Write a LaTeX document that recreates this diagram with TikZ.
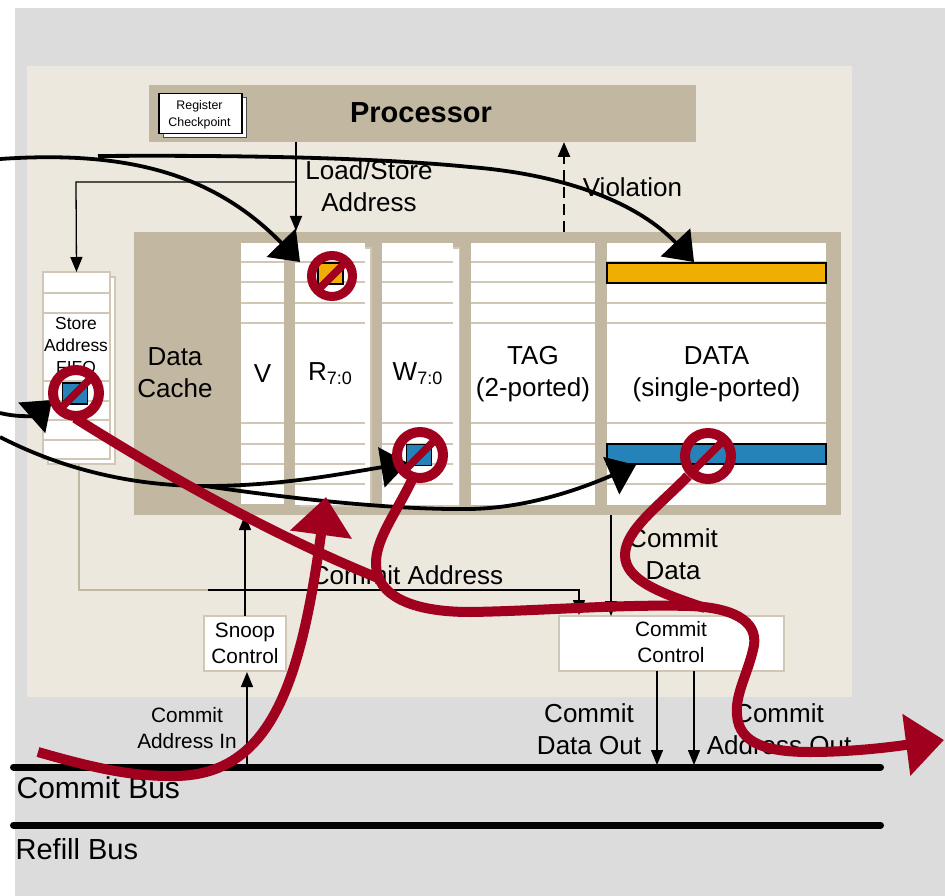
\documentclass[tikz,border=0pt]{standalone}
\usepackage{fontspec}
\setmainfont{Liberation Sans}
\usepackage{color}
\usetikzlibrary{arrows.meta, positioning, calc}

\definecolor{wallgray}{HTML}{DCDCDC}
\definecolor{chipbeige}{HTML}{ECE8DD}
\definecolor{cachetan}{HTML}{C2B7A1}
\definecolor{rowtan}{HTML}{D0C7B6}
\definecolor{stopred}{HTML}{A0001E}
\definecolor{linegold}{HTML}{F0AE00}
\definecolor{lineblue}{HTML}{2683B9}

\newcommand{\bitrange}{{\fontsize{18}{18}\selectfont\raisebox{-4pt}{7:0}}}

\begin{document}
\begin{tikzpicture}[x=1pt,y=-1pt,->,>={Triangle[length=15pt,width=12pt]},line width=1.3pt,
            block/.style={draw=none,inner sep=0pt,outer sep=0pt,align=center},
            column/.style={block,fill=white,font=\fontsize{26}{32}\selectfont},
            shadowbox/.style={block,fill=white,draw=rowtan,line width=1.2pt},
            label/.style={inner sep=0pt,align=center,font=\fontsize{26}{32}\selectfont},
            smalllabel/.style={inner sep=0pt,align=center,font=\fontsize{20.8}{26.5}\selectfont},
            ctrl/.style={block,fill=white,draw=rowtan,line width=1.2pt,font=\fontsize{20.8}{26.5}\selectfont},
            bus/.style={-,line width=7pt,line cap=round},
            blackarc/.style={line width=3.8pt,-{Triangle[length=27pt,width=40pt]}},
            blackrun/.style={line width=3.8pt,-},
            redarc/.style={draw=stopred,line width=10pt,-{Triangle[length=38pt,width=60pt,fill=stopred]}},
            redrun/.style={draw=stopred,line width=10pt,-},
            linebar/.style={block,draw=black,line width=2pt,minimum width=219pt,minimum height=20pt},
            lineword/.style={block,draw=black,line width=1.6pt,minimum width=25pt,minimum height=21pt},
            noentry/.style={circle,draw=stopred,line width=9pt,inner sep=0pt,outer sep=0pt,fill=none}]
    \useasboundingbox (0,0) rectangle (945,896);

    % background
    \node [block,fill=wallgray,minimum width=930pt,minimum height=888pt] at (480,452) (wall) {};
    \node [block,fill=chipbeige,minimum width=825pt,minimum height=631pt] at (439.5,381.5) (chip) {};

    % processor
    \node [block,fill=cachetan,minimum width=547pt,minimum height=57pt] at (422.5,113.5) (processor) {};
    \node [font=\fontsize{29}{32}\selectfont\bfseries,inner sep=0pt] at (421,113) (proctext) {Processor};
    \node [block,fill=white,draw=black!70,minimum width=83pt,minimum height=40pt] at (205,117.5) (regshadow) {};
    \node [block,fill=white,draw=black,minimum width=83pt,minimum height=40pt] at (200.5,113.5) (regcheck) {};
    \node [inner sep=0pt,align=center,font=\fontsize{12.4}{17}\selectfont] at (199.5,114.5) (regtext) {Register\\Checkpoint};

    % data cache
    \node [block,fill=cachetan,minimum width=707pt,minimum height=283pt] at (487.5,373.5) (cache) {};
    \node [label] at (175,373) (cachetext) {Data\\Cache};

    \node [shadowbox,minimum width=70pt,minimum height=258pt] at (336,377) (rshadow) {};
    \node [shadowbox,minimum width=71pt,minimum height=258pt] at (424,377) (wshadow) {};
    \node [column,minimum width=43pt,minimum height=261pt] at (262.5,373.5) (vcol) {V};
    \node [column,minimum width=70pt,minimum height=261pt] at (330,374) (rcol) {R\bitrange};
    \node [column,minimum width=71pt,minimum height=261pt] at (417.5,374) (wcol) {W\bitrange};
    \node [column,minimum width=124pt,minimum height=261pt] at (533,374) (tagcol) {TAG\\(2-ported)};
    \node [column,minimum width=219pt,minimum height=261pt] at (716.5,374) (datacol) {DATA\\(single-ported)};
    \foreach \col in {vcol,rcol,wcol,tagcol,datacol}
        \foreach \y in {262,282,303,323,423,444,464,484}
            \draw [-,rowtan,line width=1.2pt] (\col.west |- 0,\y) -- (\col.east |- 0,\y);

    \node [linebar,fill=linegold] at (716.5,272.5) (goldbar) {};
    \node [linebar,fill=lineblue] at (716.5,454) (bluebar) {};
    \node [lineword,fill=linegold] at (330.5,273.5) (goldword) {};
    \node [lineword,fill=lineblue] at (419,455) (blueword) {};

    % store address fifo
    \node [shadowbox,minimum width=67pt,minimum height=187pt] at (81.5,370.5) (fifoshadow) {};
    \node [shadowbox,minimum width=67pt,minimum height=187pt] at (76.5,365.5) (fifo) {};
    \foreach \y in {293,313,381,401,420,440}
        \draw [-,rowtan,line width=1.2pt] (fifo.west |- 0,\y) -- (fifo.east |- 0,\y);
    \node [inner sep=0pt,align=center,font=\fontsize{17.4}{22}\selectfont] at (76,346) (fifotext) {Store\\Address\\FIFO};
    \node [lineword,fill=lineblue] at (75,393.5) (fifoword) {};

    % control blocks and buses
    \node [ctrl,minimum width=82pt,minimum height=55pt] at (245,643.5) (snoop) {Snoop\\Control};
    \node [ctrl,minimum width=225pt,minimum height=55pt] at (671.5,643.5) (commit) {};
    \node [smalllabel] at (671,642) (committext) {Commit\\Control};

    \node [block,minimum width=0pt] at (13.5,767) (commitleft) {};
    \node [block,minimum width=0pt] at (880.5,767) (commitright) {};
    \node [block,minimum width=0pt] at (13.5,825) (refillleft) {};
    \node [block,minimum width=0pt] at (880.5,825) (refillright) {};
    \draw [bus] (commitleft) -- (commitright);
    \draw [bus] (refillleft) -- (refillright);

    % labels
    \node [label] at (369,186) (lsaddr) {Load/Store\\Address};
    \node [label] at (632.5,187) (violation) {Violation};
    \node [label] at (407,575) (commitaddr) {Commit Address};
    \node [label] at (673,554) (commitdata) {Commit\\Data};
    \node [label] at (589,729) (dataout) {Commit\\Data Out};
    \node [label] at (779,729) (addrout) {Commit\\Address Out};
    \node [smalllabel] at (187,728) (addrin) {Commit\\Address In};
    \node [label,font=\fontsize{30}{32}\selectfont,anchor=west] at (16,788) (commitbus) {Commit Bus};
    \node [label,font=\fontsize{29}{32}\selectfont,anchor=west] at (15,849) (refillbus) {Refill Bus};

    % thin connectors
    \coordinate (tapls) at (296,182);
    \draw (processor.south -| tapls) -- (296,231);
    \draw (tapls) -- (76,182) -- (fifo.north);
    \draw [dashed,line width=2.7pt,dash pattern=on 11pt off 6pt] (564,232) -- (564,142);
    \coordinate (turnfifo) at (79,590);
    \coordinate (turnblack) at (208,590);
    \draw [-,cachetan] (79,464) -- (turnfifo) -- (turnblack);
    \draw (turnblack) -- (579,590) -- (579,615);
    \draw (611,515) -- (commit.north -| 611,515);
    \draw (snoop.north -| 245,0) -- (245,515);
    \draw (247,767) -- (247,672);
    \draw (657,671) -- (657,765);
    \draw (694,671) -- (694,765);

    % black flows
    \draw [blackarc] (0,159) .. controls (130,150) and (215,175) .. (300,262);
    \draw [blackrun] (98,156) .. controls (250,155) and (380,158) .. (470,167);
    \draw [blackarc] (470,167) .. controls (570,175) and (640,205) .. (694,262);
    \draw [blackarc] (0,413) .. controls (20,418) and (35,415) .. (52,400);
    \coordinate (flowsplit) at (205,486);
    \draw [blackrun] (0,437) .. controls (60,468) and (130,486) .. (flowsplit);
    \draw [blackarc] (flowsplit) .. controls (280,486) and (340,474) .. (408,463);
    \draw [blackrun] (flowsplit) .. controls (300,500) and (400,510) .. (470,509);
    \draw [blackarc] (470,509) .. controls (530,508) and (585,487) .. (636,465);

    % red flows
    \draw [redrun] (38,752) .. controls (100,770) and (135,776) .. (170,776);
    \draw [redarc] (170,776) .. controls (268,778) and (300,690) .. (326,497);
    \coordinate (stopfifoend) at (75,418);
    \coordinate (stopwend) at (412,480);
    \coordinate (stopdend) at (688,476);
    \coordinate (merge1) at (378,578);
    \coordinate (merge2) at (705,608);
    \draw [redrun] (stopfifoend) .. controls (150,465) and (260,530) .. (merge1);
    \draw [redrun] (stopwend) .. controls (395,515) and (375,540) .. (376,565)
                   .. controls (377,595) and (410,612) .. (470,612)
                   .. controls (540,611) and (620,604) .. (690,606)
                   .. controls (740,608) and (760,625) .. (753,650)
                   .. controls (747,675) and (735,695) .. (737,715)
                   .. controls (739,745) and (770,752) .. (810,752);
    \draw [redarc] (810,752) .. controls (860,752) and (905,745) .. (944,740);
    \draw [redrun] (stopdend) .. controls (660,505) and (625,530) .. (625,555)
                   .. controls (625,580) and (660,593) .. (merge2);

    % stop signs
    \node [noentry,minimum size=41pt] at (332,276) (stopr) {};
    \node [noentry,minimum size=46pt,line width=10pt] at (76,393) (stopfifo) {};
    \node [noentry,minimum size=46pt,line width=10pt] at (420,455) (stopw) {};
    \node [noentry,minimum size=46pt,line width=10pt] at (708,456) (stopd) {};
    \foreach \stop in {stopr,stopfifo,stopw,stopd}
        \draw [-,stopred,line width=7.5pt] (\stop.225) -- (\stop.45);
\end{tikzpicture}
\end{document}
